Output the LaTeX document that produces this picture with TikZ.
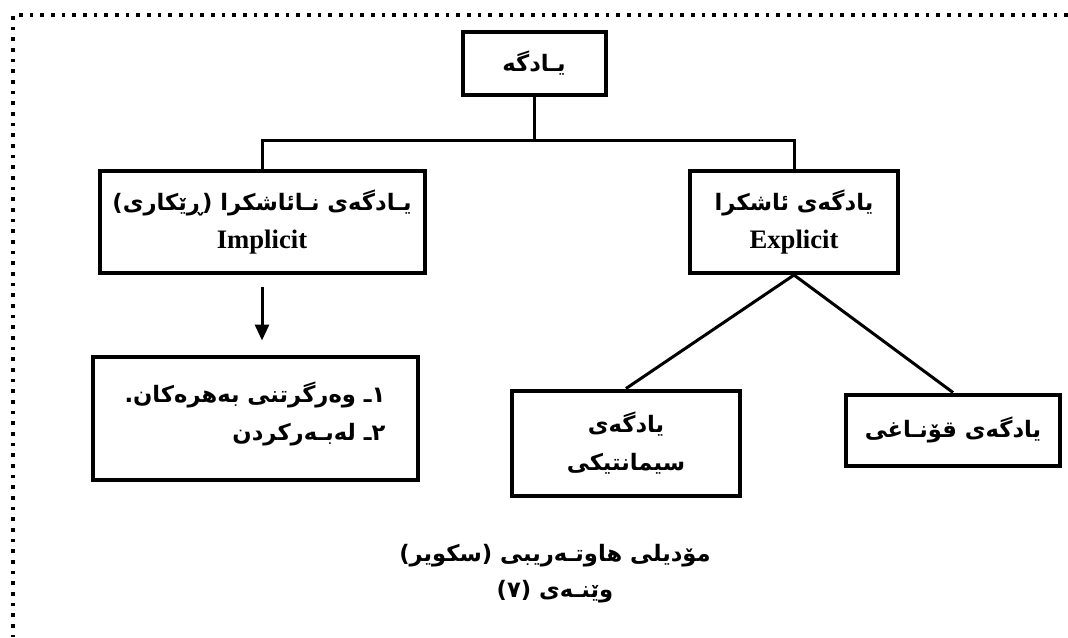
\documentclass[tikz,border=0pt]{standalone}
\usepackage{fontspec}
\setmainfont{Liberation Serif}
\newfontfamily\kurd[Script=Arabic]{DejaVu Sans}
\TeXXeTstate=1
\newcommand{\ku}[1]{{\kurd\bfseries\beginR #1\endR}}
\usetikzlibrary{arrows.meta}

\begin{document}
\begin{tikzpicture}[x=0.75pt,y=-0.75pt,
  box/.style 2 args={draw,line width=3pt,align=center,inner sep=0pt,
    minimum width=#1*0.75pt,minimum height=#2*0.75pt,
    font=\fontsize{17}{29}\selectfont},
  link/.style={line width=2.25pt},
  dotline/.style={line width=2.8pt,dash pattern=on 2.8pt off 5.2pt}]
\useasboundingbox (0,0) rectangle (1068,637);
\draw [dotline] (1068,15) -- (13,15) -- (13,637);
\node [box={143}{63}] (top) at (534,63) {\ku{یـادگە}};
\node [box={325}{102}] (implicit) at (262,222) {\ku{یـادگەی نـائاشکرا (ڕێکاری)}\\\textbf{\fontsize{20}{29}\selectfont Implicit}};
\node [box={208}{102}] (explicit) at (794,222) {\ku{یادگەی ئاشکرا}\\\textbf{\fontsize{20}{29}\selectfont Explicit}};
\node [box={325}{123},align=right,text depth=10pt] (list) at (255,418) {\ku{١ـ وەرگرتنی بەهرەکان.}\\\ku{٢ـ لەبـەرکردن}};
\node [box={228}{105}] (semantic) at (626,443) {\ku{یادگەی}\\\ku{سیمانتیکی}};
\node [box={214}{71}] (stage) at (953,430) {\ku{یادگەی قۆنـاغی}};
\node [align=center,font=\fontsize{17}{27}\selectfont] (caption) at (555,574) {\ku{مۆدیلی هاوتـەریبی (سکویر)}\\\ku{وێنـەی (٧)}};
\coordinate (bar) at (534,140);
\draw [link] (top.south) -- (bar);
\draw [link] (implicit.north) |- (bar) -| (explicit.north);
\draw [link,-{Triangle[width=10.5pt,length=12pt]},shorten <=9pt,shorten >=10.5pt] (implicit.south) -- (implicit.south |- list.north);
\draw [link] (explicit.south) -- (semantic.north);
\draw [link] (explicit.south) -- (stage.north);
\end{tikzpicture}
\end{document}
